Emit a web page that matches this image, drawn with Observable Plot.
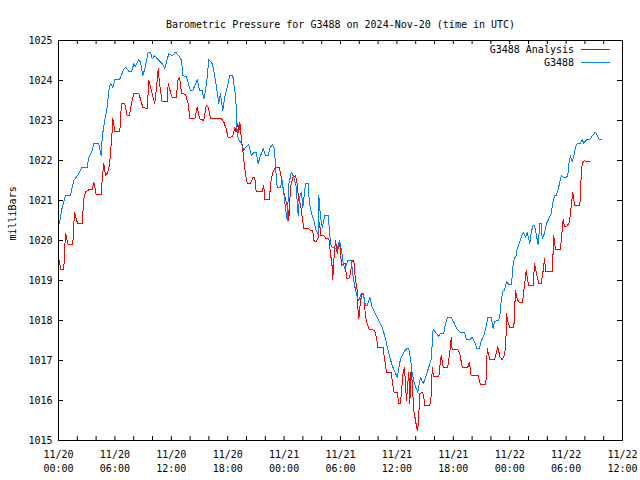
<!DOCTYPE html>
<html><head><meta charset="utf-8">
<script src="https://cdn.jsdelivr.net/npm/d3@7"></script>
<script src="https://cdn.jsdelivr.net/npm/@observablehq/plot@0.6"></script>
<style>body{margin:0;background:#fff} svg{display:block}</style>
</head><body><div id="chart"></div>
<script>
const title = "Barometric Pressure for G3488 on 2024-Nov-20 (time in UTC)";
const yLabel = "milliBars";
const seriesNames = ["G3488 Analysis", "G3488"];
const seriesColors = ["#ff0000", "#0080ff"];
const startTime = Date.UTC(2024, 10, 20, 0, 0);
const endHours = 60;
const yTicks = [1015, 1016, 1017, 1018, 1019, 1020, 1021, 1022, 1023, 1024, 1025];

// G3488 Analysis: hours since 11/20 00:00 UTC and pressure (mb)
const analysisHours = [
  0.11,0.21,0.56,0.74,0.93,1.03,1.52,1.70,1.88,2.05,
  2.52,2.69,2.87,3.22,3.59,3.76,4.01,4.54,4.65,4.82,
  5.00,5.18,5.43,5.71,5.78,5.99,6.52,6.70,7.05,7.31,
  7.55,7.77,8.01,8.54,8.97,9.44,9.61,9.79,10.03,10.24,
  10.39,10.61,10.74,11.03,11.56,11.67,11.91,12.10,12.52,12.73,
  12.87,13.09,13.51,13.80,13.97,14.50,14.76,15.00,15.46,15.71,
  15.93,16.17,17.34,17.59,17.84,18.05,18.54,18.76,18.90,19.07,
  19.18,19.29,19.44,19.61,19.71,19.89,20.07,20.43,20.67,20.88,
  21.03,21.67,21.84,21.95,22.45,22.55,22.80,23.09,23.51,23.72,
  23.86,24.07,24.44,24.50,24.68,24.93,25.21,25.39,25.56,25.74,
  25.93,26.10,26.63,26.81,27.05,27.16,27.41,27.63,27.77,27.90,
  28.22,28.48,28.76,28.94,29.12,29.18,29.29,29.47,29.65,29.89,
  30.11,30.35,30.53,30.64,30.88,31.06,31.24,31.41,31.60,31.78,
  31.84,31.95,32.13,32.31,32.48,32.66,32.84,33.01,33.62,33.83,
  33.97,34.54,34.68,34.89,35.39,35.50,35.67,36.03,36.20,36.38,
  36.49,36.67,36.81,36.91,37.02,37.16,37.27,37.37,37.52,37.63,
  37.80,37.98,38.16,38.27,38.44,38.69,38.86,38.94,39.50,39.65,
  39.76,39.86,39.93,40.46,40.64,40.71,40.93,41.41,41.63,41.78,
  41.88,42.48,42.69,42.95,43.54,43.72,43.90,44.65,44.89,45.46,
  45.61,45.71,45.88,46.38,46.60,46.73,46.95,47.20,47.45,47.59,
  47.66,47.80,48.01,48.44,48.62,48.80,48.97,49.36,49.57,49.76,
  49.86,50.03,50.50,50.64,50.93,51.10,51.35,51.56,51.70,51.84,
  52.52,52.63,52.69,52.80,52.90,53.40,53.59,53.69,53.83,54.04,
  54.29,54.47,54.54,54.71,54.82,54.89,55.46,55.61,55.71,55.96,
  56.17,56.52
];
const analysisValues = [
  1019.50,1019.27,1019.27,1020.18,1020.00,1019.89,1019.89,1020.71,1020.54,1020.42,
  1020.42,1021.04,1021.21,1021.27,1021.27,1021.46,1021.15,1021.15,1021.54,1021.93,
  1021.62,1021.68,1021.87,1022.75,1023.04,1022.73,1022.73,1023.43,1023.43,1023.12,
  1023.12,1023.43,1023.68,1023.68,1023.33,1023.29,1024.00,1023.83,1023.62,1023.42,
  1023.75,1024.29,1023.93,1023.47,1023.47,1023.92,1023.71,1023.58,1023.58,1024.04,
  1024.08,1023.68,1023.65,1023.42,1023.04,1023.04,1023.33,1023.04,1023.00,1023.37,
  1023.33,1023.04,1023.04,1022.96,1022.79,1022.57,1022.60,1022.83,1022.71,1022.93,
  1022.71,1022.96,1022.58,1022.25,1022.00,1021.67,1021.43,1021.43,1021.57,1021.57,
  1021.23,1021.23,1021.37,1021.02,1021.02,1021.42,1021.71,1021.82,1021.82,1021.54,
  1021.33,1021.12,1020.75,1020.50,1021.33,1021.58,1021.62,1021.42,1021.00,1020.92,
  1020.58,1020.29,1020.29,1020.25,1020.25,1020.00,1019.96,1020.08,1020.46,1020.12,
  1020.12,1020.04,1020.04,1019.67,1019.33,1019.02,1019.50,1020.00,1019.67,1020.00,
  1019.37,1019.43,1019.42,1019.04,1019.04,1019.17,1019.50,1019.50,1019.00,1018.75,
  1018.33,1018.04,1018.50,1018.67,1018.67,1018.08,1017.92,1017.79,1017.75,1017.58,
  1017.33,1017.33,1017.04,1016.71,1016.71,1016.50,1016.21,1016.21,1015.92,1015.92,
  1016.25,1016.71,1016.83,1016.42,1016.00,1016.42,1016.71,1015.92,1016.83,1016.42,
  1015.75,1015.50,1015.25,1015.40,1016.17,1016.21,1016.12,1015.87,1015.87,1016.12,
  1016.83,1016.67,1016.60,1016.60,1017.00,1017.12,1016.83,1016.83,1017.21,1017.57,
  1017.27,1017.27,1017.17,1016.83,1016.83,1016.96,1016.62,1016.62,1016.40,1016.40,
  1017.29,1017.20,1017.02,1017.02,1017.21,1017.35,1017.10,1017.02,1017.15,1017.42,
  1018.17,1017.98,1017.83,1017.83,1018.75,1018.54,1018.46,1018.46,1018.87,1019.25,
  1019.08,1018.87,1018.87,1019.42,1019.08,1018.93,1018.93,1019.25,1019.54,1019.23,
  1019.23,1019.75,1020.12,1019.90,1019.77,1019.77,1020.29,1020.54,1020.35,1020.35,
  1020.42,1020.67,1020.87,1021.21,1021.04,1020.87,1020.87,1021.62,1021.92,1022.00,
  1021.97,1021.97
];

// G3488 station observations
const stationHours = [
  0.11,0.32,0.74,1.28,1.46,1.63,2.16,2.45,3.05,3.22,
  3.59,3.76,4.29,4.54,4.65,4.82,5.18,5.35,5.53,5.78,
  5.99,6.49,6.95,7.20,7.48,7.77,8.01,8.19,8.54,8.72,
  8.97,9.18,9.54,9.79,9.97,10.24,10.67,11.03,11.31,11.73,
  12.10,12.45,12.80,13.09,13.22,13.59,14.04,14.29,14.76,15.00,
  15.29,15.46,15.64,15.82,15.99,16.35,16.52,16.70,16.88,17.05,
  17.23,17.48,17.69,17.95,18.22,18.54,18.76,18.90,19.01,19.18,
  19.47,19.71,19.89,20.24,20.53,20.78,21.03,21.24,21.49,21.78,
  22.02,22.31,22.45,22.73,22.98,23.09,23.27,23.62,23.80,23.97,
  24.22,24.33,24.50,24.79,25.03,25.29,25.50,25.64,25.85,25.99,
  26.28,26.56,26.70,26.91,27.16,27.41,27.63,27.69,27.87,28.05,
  28.33,28.69,28.83,28.94,29.12,29.29,29.47,29.65,29.89,30.11,
  30.24,30.46,30.78,30.99,31.14,31.35,31.60,31.78,31.95,32.20,
  32.41,32.66,32.84,33.12,33.37,33.72,34.07,34.44,34.79,35.14,
  35.50,35.85,36.03,36.38,36.73,37.02,37.27,37.45,37.63,37.87,
  38.22,38.51,38.80,39.04,39.39,39.65,39.86,40.11,40.46,40.64,
  40.99,41.17,41.41,41.78,42.05,42.41,42.69,43.19,43.40,43.76,
  44.01,44.26,44.54,44.76,44.97,45.24,45.53,45.67,46.03,46.24,
  46.38,46.84,47.02,47.10,47.31,47.45,47.66,47.90,48.19,48.37,
  48.51,48.65,48.80,49.01,49.22,49.44,49.68,49.86,50.14,50.29,
  50.50,50.64,50.85,51.03,51.20,51.35,51.46,51.70,51.91,52.16,
  52.41,52.63,52.80,52.95,53.12,53.33,53.48,53.69,54.04,54.18,
  54.29,54.47,54.65,54.82,55.00,55.18,55.53,55.71,55.88,56.17,
  56.52,56.78,57.13,57.37,57.52,57.73
];
const stationValues = [
  1020.42,1020.75,1021.12,1021.12,1021.33,1021.50,1021.67,1021.82,1021.82,1022.08,
  1022.25,1022.42,1022.42,1022.12,1022.58,1022.87,1023.33,1023.75,1023.93,1023.83,
  1024.02,1024.02,1024.29,1024.33,1024.22,1024.22,1024.42,1024.35,1024.52,1024.46,
  1024.12,1024.29,1024.71,1024.71,1024.54,1024.62,1024.50,1024.42,1024.29,1024.67,
  1024.62,1024.71,1024.62,1024.50,1024.12,1024.10,1023.75,1023.75,1024.02,1023.75,
  1023.75,1023.54,1023.75,1024.08,1024.52,1024.42,1024.25,1024.00,1023.71,1023.42,
  1023.67,1023.25,1023.58,1023.83,1024.12,1024.12,1023.75,1023.37,1022.67,1022.52,
  1022.42,1022.25,1022.33,1022.40,1022.12,1022.21,1022.21,1021.93,1022.12,1022.29,
  1022.12,1022.12,1022.29,1022.40,1022.29,1021.83,1021.33,1021.33,1021.50,1021.17,
  1020.67,1020.50,1021.42,1021.71,1021.58,1021.33,1020.62,1021.08,1021.21,1020.83,
  1021.42,1021.42,1020.92,1020.67,1020.50,1020.25,1020.17,1021.12,1020.58,1020.33,
  1020.62,1020.62,1020.25,1019.92,1019.83,1019.83,1019.79,1019.79,1020.00,1019.75,
  1019.50,1019.29,1019.50,1019.50,1019.50,1019.08,1018.75,1018.58,1018.50,1018.67,
  1018.67,1018.37,1018.37,1018.58,1018.33,1018.17,1018.00,1017.83,1017.54,1017.17,
  1016.87,1016.68,1016.58,1017.04,1017.21,1017.29,1017.29,1017.04,1016.67,1016.42,
  1016.21,1016.58,1016.42,1016.58,1016.83,1017.04,1017.79,1017.71,1017.60,1017.68,
  1017.68,1017.92,1018.08,1018.08,1017.96,1017.79,1017.71,1017.71,1017.52,1017.52,
  1017.58,1017.46,1017.29,1017.29,1017.48,1017.62,1017.87,1018.08,1018.08,1017.79,
  1017.98,1018.00,1018.21,1018.54,1018.75,1018.75,1018.97,1018.90,1018.90,1019.42,
  1019.58,1019.58,1019.79,1019.92,1020.08,1020.21,1020.08,1020.21,1019.92,1020.21,
  1020.37,1020.37,1020.12,1019.90,1020.42,1020.42,1020.04,1020.18,1020.42,1020.54,
  1020.68,1021.00,1021.12,1021.12,1021.25,1021.46,1021.62,1021.58,1021.58,1021.62,
  1021.92,1022.12,1021.96,1022.12,1022.33,1022.43,1022.43,1022.52,1022.43,1022.52,
  1022.52,1022.62,1022.71,1022.60,1022.52,1022.52
];

const toDate = h => new Date(startTime + h * 3600e3);
const analysis = analysisHours.map((h, i) => ({time: toDate(h), value: analysisValues[i]}));
const station = stationHours.map((h, i) => ({time: toDate(h), value: stationValues[i]}));
const labelTicks = d3.range(0, endHours + 1, 6).map(toDate);
const xTicks = d3.range(0, endHours + 1, 2).map(toDate);

const W = 640, H = 480, mL = 58, mR = 18, mT = 40, mB = 40;
const fw = W - mL - mR, fh = H - mT - mB;
const font = "DejaVu Sans Mono";
const fmt = d3.utcFormat("%m/%d\n%H:%M");

const plot = Plot.plot({
  width: W, height: H,
  marginLeft: mL, marginRight: mR, marginTop: mT, marginBottom: mB,
  style: {fontFamily: font, fontSize: "10px", color: "#000", background: "#fff"},
  x: {type: "utc", domain: [toDate(0), toDate(endHours)]},
  y: {domain: [1015, 1025]},
  marks: [
    Plot.ruleX(xTicks, {x: d => d, insetTop: fh - 4, stroke: "#000"}),
    Plot.ruleX(xTicks, {x: d => d, insetBottom: fh - 4, stroke: "#000"}),
    Plot.ruleY(yTicks, {y: d => d, insetRight: fw - 5, stroke: "#000"}),
    Plot.ruleY(yTicks, {y: d => d, insetLeft: fw - 5, stroke: "#000"}),
    Plot.axisX(labelTicks, {tickSize: 0, tickPadding: 8, tickFormat: fmt, lineHeight: 1.4, label: null}),
    Plot.axisY(yTicks, {tickSize: 0, tickPadding: 6, tickFormat: d => String(d), label: null}),
    Plot.text([yLabel], {frameAnchor: "left", dx: -46, rotate: -90}),
    Plot.line(analysis, {x: "time", y: "value", stroke: seriesColors[0], strokeWidth: 1, shapeRendering: "crispEdges"}),
    Plot.line(station, {x: "time", y: "value", stroke: seriesColors[1], strokeWidth: 1, shapeRendering: "crispEdges"}),
    Plot.frame({stroke: "#000"}),
    Plot.text([title], {frameAnchor: "top", dy: -20})
  ]
});
document.getElementById("chart").appendChild(plot);

// legend entries (text + line sample), drawn in the plot's SVG
const svg = d3.select(plot);
const leg = svg.append("g").attr("font-family", font).attr("font-size", 10);
seriesNames.forEach((name, i) => {
  const y = mT + 9.5 + i * 13;
  leg.append("text").attr("x", W - mR - 48).attr("y", y).attr("dy", "0.32em")
    .attr("text-anchor", "end").attr("fill", "#000").text(name);
  leg.append("line").attr("x1", W - mR - 41).attr("x2", W - mR - 12)
    .attr("y1", y).attr("y2", y).attr("stroke", seriesColors[i]).attr("stroke-width", 1);
});
</script>
</body></html>
